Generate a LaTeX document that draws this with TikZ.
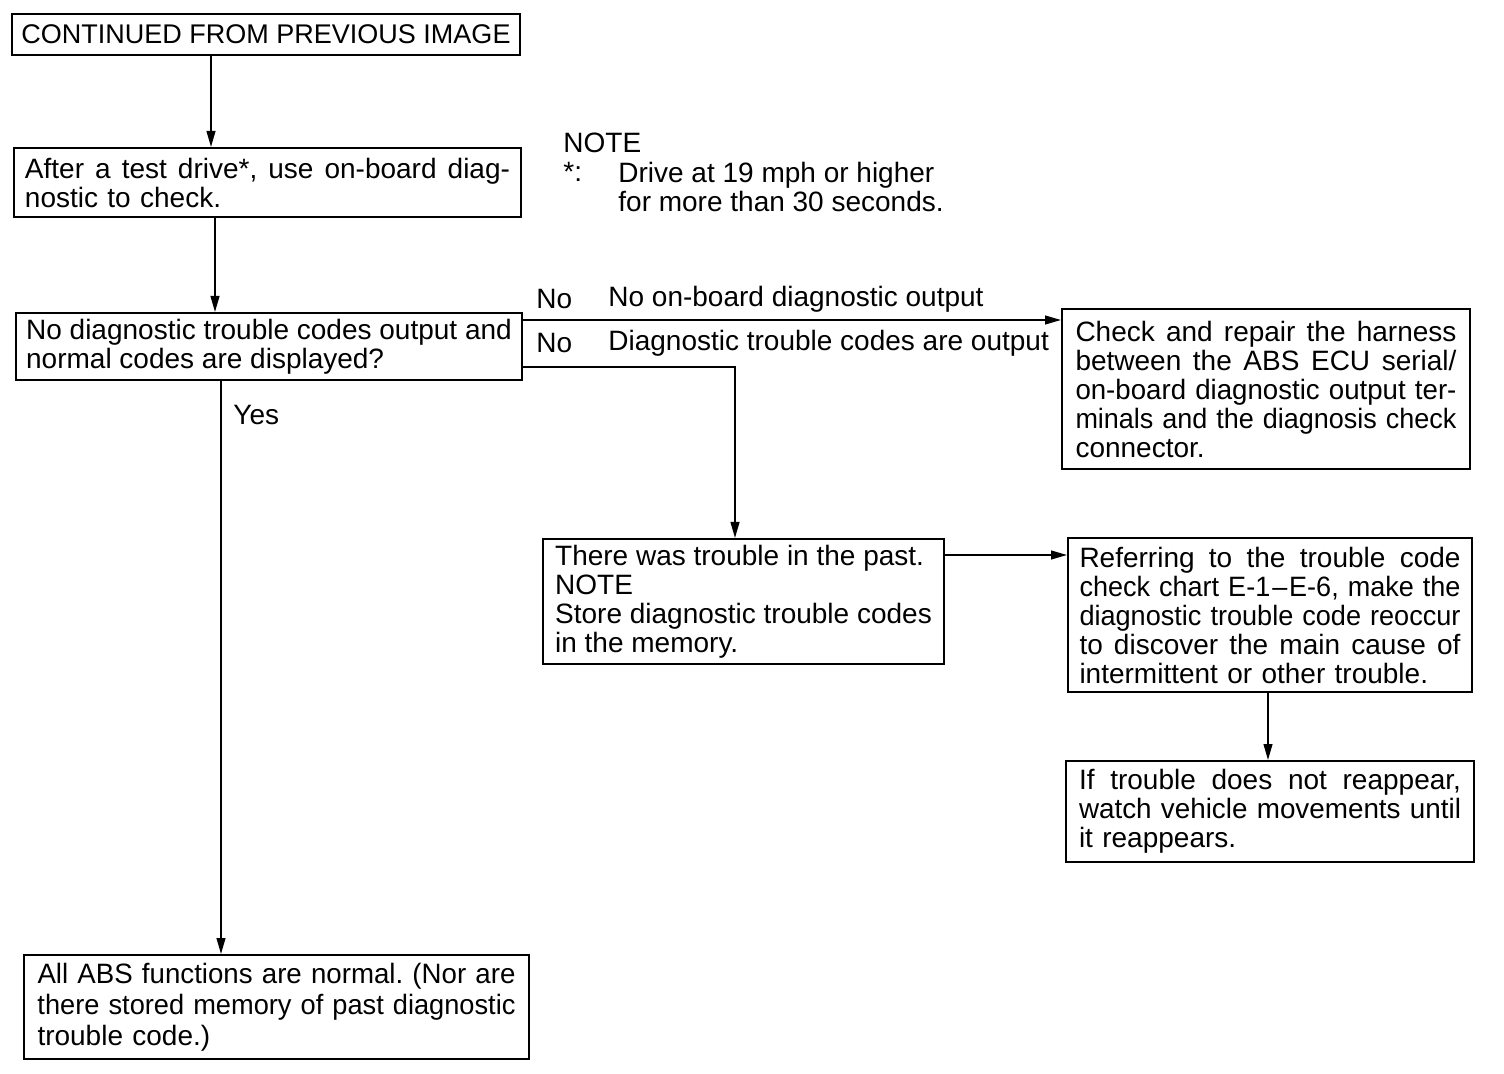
\documentclass[tikz,border=0pt]{standalone}
\usepackage{fontspec}
\usepackage{graphicx}
\setmainfont{Liberation Sans}
\usetikzlibrary{arrows.meta}
\newsavebox\jlbox
\newcommand{\jl}[2]{\noindent\sbox\jlbox{#2}%
  \ifdim\wd\jlbox>#1\relax\resizebox{#1}{\height}{\usebox\jlbox}%
  \else\hbox to #1{\spaceskip=.278em plus 1fil\xspaceskip=\spaceskip #2}\fi}
\tikzset{
  box/.style={draw, line width=1pt, font=\fontsize{14pt}{14.5pt}\selectfont\frenchspacing, align=left, inner ysep=0pt},
  lbl/.style={inner sep=0pt, font=\fontsize{14pt}{14.5pt}\selectfont},
  arr/.style={line width=0.85pt, -{Triangle[length=8pt,width=4.4pt]}},
}
\begin{document}
\begin{tikzpicture}[x=0.5pt,y=-0.5pt]
\useasboundingbox (0,0) rectangle (1504,1074);
% boxes
\node[box, minimum width=254pt, minimum height=20.5pt, font=\fontsize{13.5pt}{14.5pt}\selectfont] (c1) at (266,34.5) {CONTINUED FROM PREVIOUS IMAGE};
\node[box, minimum width=253.5pt, minimum height=34.5pt, text width=242.5pt, inner xsep=5.5pt] (after) at (267.5,182.5)
  {\jl{242.5pt}{After a test drive*, use on-board diag-}\\nostic to check.};
\node[box, minimum width=253pt, minimum height=33.5pt] (diag) at (269,346.5)
  {No diagnostic trouble codes output and\\normal codes are displayed?};
\node[box, minimum width=204pt, minimum height=80pt, text width=190.5pt, inner xsep=6.75pt] (check) at (1266,389)
  {\jl{190.5pt}{Check and repair the harness}\\\jl{190.5pt}{between the ABS ECU serial/}\\\jl{190.5pt}{on-board diagnostic output ter-}\\\jl{190.5pt}{minals and the diagnosis check}\\connector.};
\node[box, minimum width=200.5pt, minimum height=62.5pt] (past) at (743.5,601.5)
  {There was trouble in the past.\\NOTE\\Store diagnostic trouble codes\\in the memory.};
\node[box, minimum width=202pt, minimum height=77pt, text width=190.5pt, inner xsep=5.75pt] (refer) at (1270,615)
  {\jl{190.5pt}{Referring to the trouble code}\\\jl{190.5pt}{check chart E-1\kern1pt--\kern1pt E-6, make the}\\\jl{190.5pt}{diagnostic trouble code reoccur}\\\jl{190.5pt}{to discover the main cause of}\\intermittent or other trouble.};
\node[box, minimum width=204pt, minimum height=50.5pt, text width=191pt, inner xsep=6.5pt] (iftrouble) at (1270,811.5)
  {\jl{191pt}{If trouble does not reappear,}\\\jl{191pt}{watch vehicle movements until}\\it reappears.};
\node[box, minimum width=252.5pt, minimum height=52pt, text width=239pt, inner xsep=6.75pt, font=\fontsize{14pt}{15.5pt}\selectfont\frenchspacing] (allabs) at (276.5,1007)
  {\jl{239pt}{All ABS functions are normal. (Nor are}\\\jl{239pt}{there stored memory of past diagnostic}\\trouble code.)};
% note
\node[lbl, anchor=west] (notet) at (563,143) {NOTE};
\node[lbl, anchor=west] (nstar) at (563,172) {*:};
\node[lbl, anchor=west, align=left] (ndrive) at (618,187) {Drive at 19 mph or higher\\for more than 30 seconds.};
% labels
\node[lbl, anchor=west] (no1) at (536,299) {No};
\node[lbl, anchor=west] (no1t) at (608,299) {No on-board diagnostic output};
\node[lbl, anchor=west] (no2) at (536,343) {No};
\node[lbl, anchor=west] (no2t) at (608,343) {Diagnostic trouble codes are output};
\node[lbl, anchor=west] (yes) at (233,415) {Yes};
% helper coordinates
\coordinate (xa) at (211,0);
\coordinate (xb) at (215,0);
\coordinate (xy) at (221,0);
\coordinate (xp) at (735,0);
\coordinate (xr) at (1268,0);
\coordinate (yn1) at (0,320);
\coordinate (yn2) at (0,367);
\coordinate (yr) at (0,555);
% connectors
\draw[arr] (c1.south -| xa) -- (after.north -| xa);
\draw[arr] (after.south -| xb) -- (diag.north -| xb);
\draw[arr] (diag.south -| xy) -- (allabs.north -| xy);
\draw[arr] (diag.east |- yn1) -- (check.west |- yn1);
\draw[arr] (diag.east |- yn2) -- (xp |- yn2) -- (past.north -| xp);
\draw[arr] (past.east |- yr) -- (refer.west |- yr);
\draw[arr] (refer.south -| xr) -- (iftrouble.north -| xr);
\end{tikzpicture}
\end{document}
